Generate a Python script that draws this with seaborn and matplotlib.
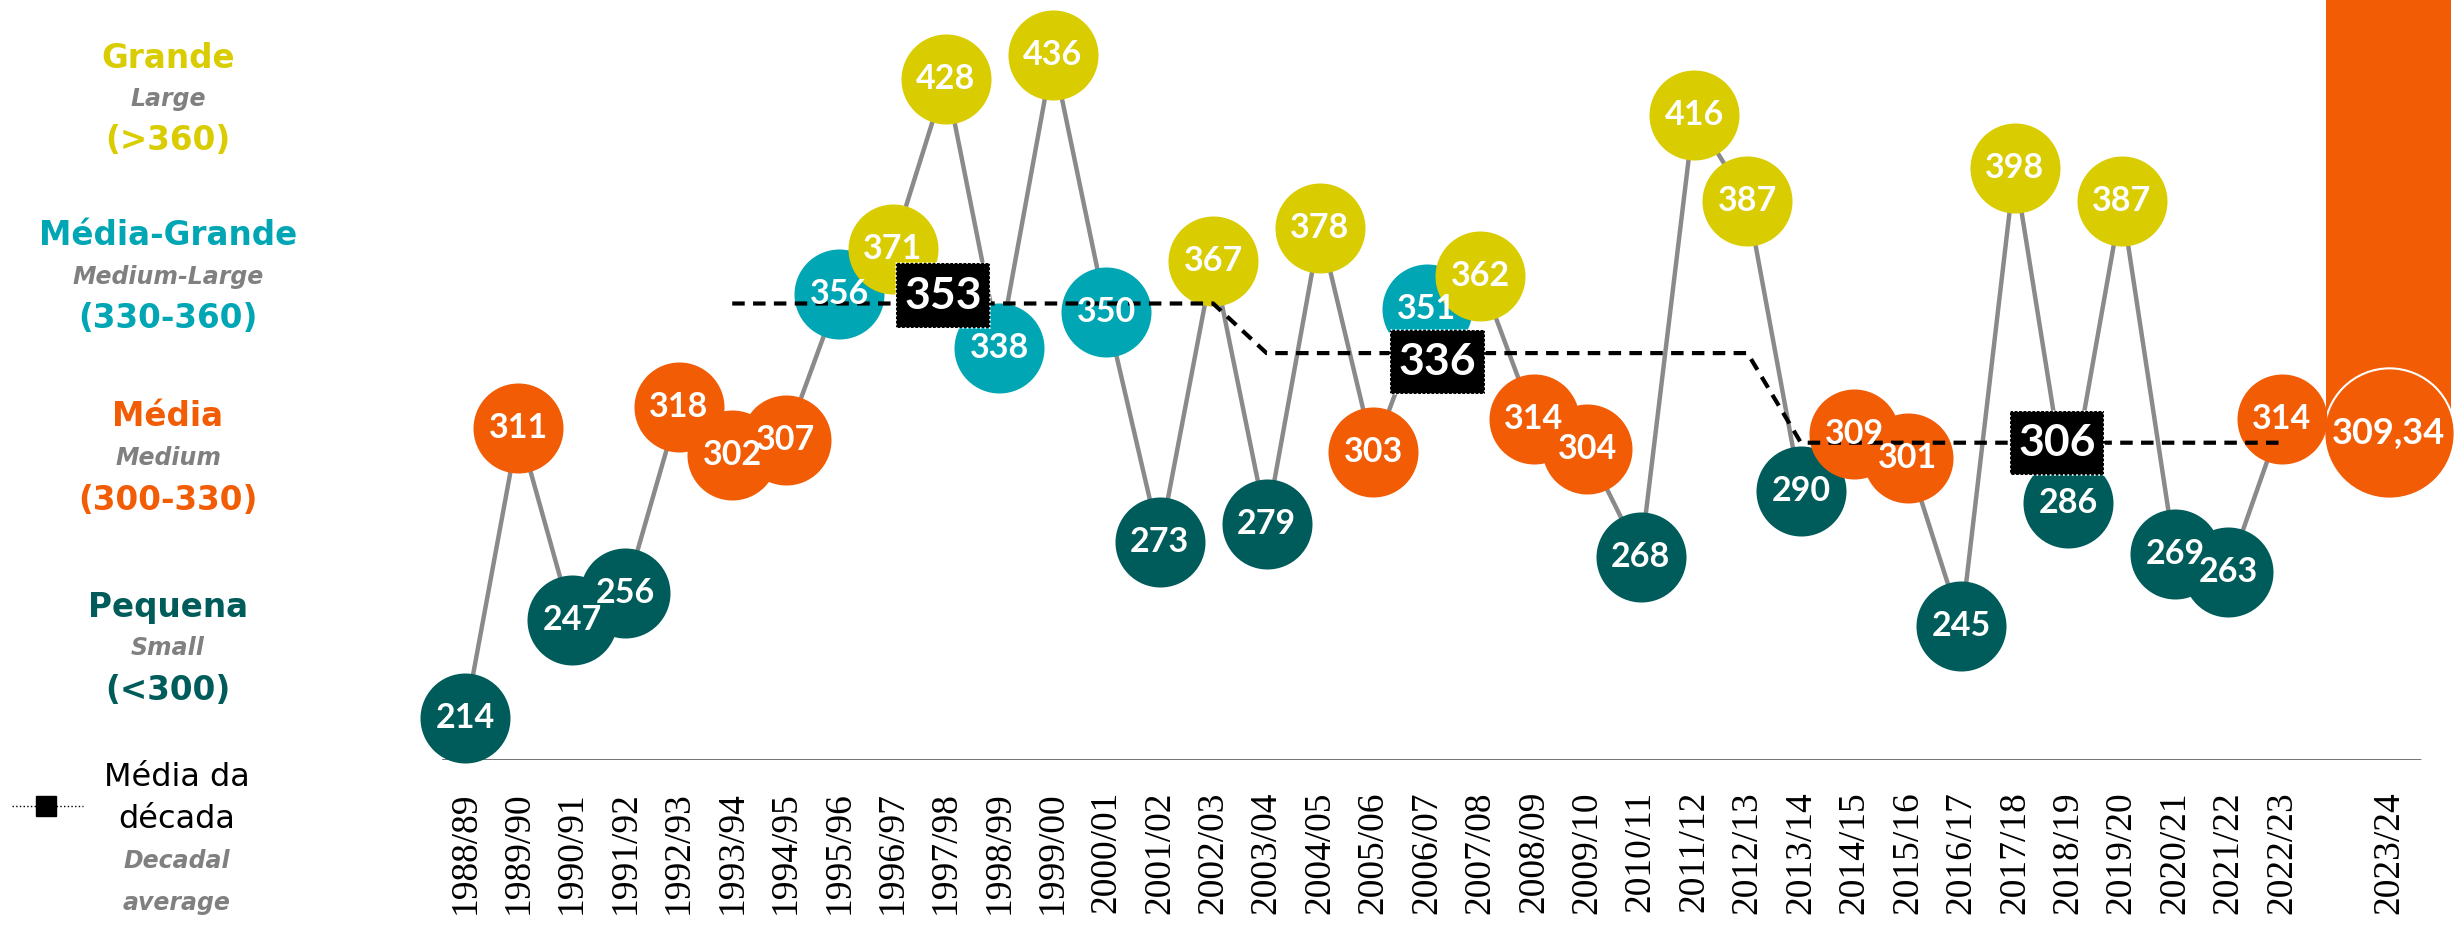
import numpy as np
import matplotlib
matplotlib.use('Agg')
import matplotlib.pyplot as plt
import matplotlib.transforms as mtransforms
from matplotlib import font_manager
from matplotlib.lines import Line2D
import seaborn as sns

# seasons and values
seasons = ['1988/89', '1989/90', '1990/91', '1991/92', '1992/93', '1993/94',
           '1994/95', '1995/96', '1996/97', '1997/98', '1998/99', '1999/00',
           '2000/01', '2001/02', '2002/03', '2003/04', '2004/05', '2005/06',
           '2006/07', '2007/08', '2008/09', '2009/10', '2010/11', '2011/12',
           '2012/13', '2013/14', '2014/15', '2015/16', '2016/17', '2017/18',
           '2018/19', '2019/20', '2020/21', '2021/22', '2022/23']
values = [214, 311, 247, 256, 318, 302, 307, 356, 371, 428, 338, 436, 350, 273,
          367, 279, 378, 303, 351, 362, 314, 304, 268, 416, 387, 290, 309, 301,
          245, 398, 286, 387, 269, 263, 314]
current_season = '2023/24'
current_value = 309.34

# decades used for the average (start index, end index inclusive)
decades = [(5, 14), (15, 24), (25, 34)]
avg_label_x = [8.95, 18.2, 29.8]
avg_label_dy = [8, -9, 0]   # label box offset from the line, pixels

YELLOW = '#D9CC00'
TEAL = '#00A6B3'
ORANGE = '#F25C05'
DARK = '#005C5A'
GRAY = '#8A8A8A'


def cat_color(v):
    if v > 360:
        return YELLOW
    if v >= 330:
        return TEAL
    if v >= 300:
        return ORANGE
    return DARK


sns.set_style('white')
plt.rcParams['font.family'] = ['DejaVu Sans']

# serif face for the season labels
serif_family, serif_size = 'DejaVu Serif', 22
for fam, size in [('Liberation Serif', 27), ('Tinos', 27), ('Noto Serif', 23)]:
    try:
        font_manager.findfont(font_manager.FontProperties(family=fam),
                              fallback_to_default=False)
        serif_family, serif_size = fam, size
        break
    except ValueError:
        pass

fig = plt.figure(figsize=(24.56, 9.27), dpi=100)
ax = fig.add_axes([0.18, 0.1802, 0.82, 0.8198])

x = np.arange(len(values))
x_cur = len(values) + 1

# connecting grey line
sns.lineplot(x=x, y=values, color=GRAY, linewidth=3.2, ax=ax, zorder=2)

# big current season bar + bubble
ax.bar([x_cur], [1000], bottom=current_value, width=2.34, color=ORANGE,
       linewidth=0, zorder=1)
ax.scatter([x_cur], [current_value], s=8800, color=ORANGE, edgecolor='white',
           linewidth=1.5, zorder=3, clip_on=False)
ax.text(x_cur, current_value, '309,34', color='white', fontsize=26,
        fontweight='bold', family='Lato', ha='center', va='center', zorder=4)

# bubbles, each one above the previous; labels on top of all bubbles
for i, v in enumerate(values):
    sns.scatterplot(x=[i], y=[v], s=4200, color=cat_color(v), linewidth=0,
                    ax=ax, zorder=10 + i, clip_on=False, legend=False)
    ax.text(i, v, str(v), color='white', fontsize=24.5, fontweight='bold',
            family='Lato', ha='center', va='center', zorder=95)

# decadal averages
dx, dy = [], []
avgs = []
for s, e in decades:
    m = float(np.mean(values[s:e + 1]))
    avgs.append(m)
    dx += [s, e]
    dy += [m, m]
sns.lineplot(x=dx, y=dy, color='black', linewidth=3, linestyle=(0, (3, 2)),
             ax=ax, zorder=90)
box = [(-1, -0.68), (1, -0.68), (1, 0.68), (-1, 0.68), (-1, -0.68)]
for lx, m, off in zip(avg_label_x, avgs, avg_label_dy):
    shift = mtransforms.ScaledTranslation(0, off / 100, fig.dpi_scale_trans)
    ax.scatter([lx], [m], marker=box, s=4600, color='black', edgecolor='white',
               linewidth=1.2, linestyle=':', zorder=100,
               transform=ax.transData + shift)
    ax.text(lx, m, f'{m:.0f}', color='white', fontsize=32, fontweight='bold',
            family='Lato', ha='center', va='center', zorder=101,
            transform=ax.transData + shift)

ax.set_xlim(-0.43, 37.26)
ax.set_ylim(200, 454.4)
ax.axhline(200, xmin=0, xmax=0.982, color='#666666', linewidth=2, zorder=1)
for sp in ax.spines.values():
    sp.set_visible(False)
ax.set_yticks([])
ax.set_xticks([])
ax.set_xlabel('')
ax.set_ylabel('')

# season labels in a serif face under the axis line
trans = mtransforms.blended_transform_factory(ax.transData, ax.transAxes)
for xi, lab in zip(list(x) + [x_cur], seasons + [current_season]):
    ax.text(xi, -0.041, lab, transform=trans, rotation=90, ha='center',
            va='top', fontsize=serif_size, family=serif_family, color='black')

# left legend
W, H = 2456.0, 927.0


def ftext(px, py, s, **kw):
    fig.text(px / W, 1 - py / H, s, ha='center', va='center', **kw)


legend = [
    ('Grande', 'Large', '(>360)', YELLOW, 58),
    ('Média-Grande', 'Medium-Large', '(330-360)', TEAL, 236),
    ('Média', 'Medium', '(300-330)', ORANGE, 417),
    ('Pequena', 'Small', '(<300)', DARK, 607),
]
for pt, en, rng, col, y0 in legend:
    ftext(168, y0, pt, color=col, fontsize=23.5, fontweight='bold')
    ftext(168, y0 + 41, en, color='#808080', fontsize=17, fontweight='bold',
          style='italic')
    ftext(168, y0 + 83, rng, color=col, fontsize=23.5, fontweight='bold')

ftext(177, 778, 'Média da', color='black', fontsize=23)
ftext(177, 820, 'década', color='black', fontsize=23)
ftext(177, 861, 'Decadal', color='#808080', fontsize=17, fontweight='bold',
      style='italic')
ftext(177, 903, 'average', color='#808080', fontsize=17, fontweight='bold',
      style='italic')
fig.add_artist(Line2D([12 / W, 83 / W], [1 - 806 / H, 1 - 806 / H],
                      color='black', linewidth=1, linestyle=':'))
fig.add_artist(Line2D([46 / W], [1 - 806 / H], color='black', marker='s',
                      markersize=15, linestyle='none'))

fig.savefig('out.png', dpi=100)
